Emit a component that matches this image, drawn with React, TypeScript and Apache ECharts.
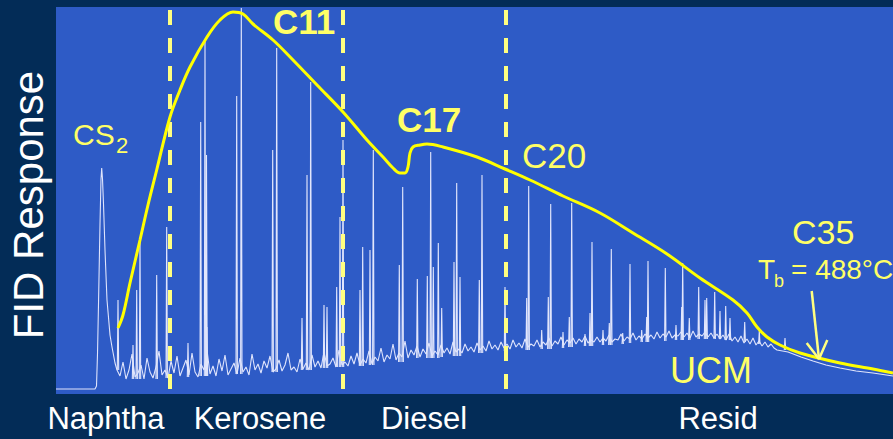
import React, { useEffect, useRef } from "react";
import * as echarts from "echarts";

// Bottom region labels (x = retention position, plot units)
const regionNames = ["Naphtha", "Kerosene", "Diesel", "Resid"];
const regionLabelPos = [50, 204, 368, 662];
// Dashed cut points between the fractions
const cutPoints = [114, 287, 449.5];

// Detector trace: flat start + CS2 solvent peak [rt, response]
const cs2Trace: [number, number][] = [
  [0, 5], [39, 5], [40.5, 8], [41.5, 40], [42.5, 90], [44, 170], [45, 215], [45.7, 226],
  [46.5, 215], [47.5, 190], [49, 144], [51, 94], [54, 59], [56, 47], [59, 31], [61, 24],
];
// Noisy UCM band, sampled every 3 units from rt 64
const noiseStart = 64;
const noiseStep = 3;
const noiseTrace = [
  18, 32, 15, 24, 40, 17, 21, 29, 15, 36, 22, 16, 27, 43, 19, 24, 16, 33, 21, 38,
  18, 26, 34, 19, 41, 22, 17, 30, 24, 44, 20, 28, 18, 35, 23, 39, 19, 25, 31, 20,
  36, 22, 27, 19, 40, 24, 30, 21, 33, 26, 38, 22, 25, 34, 23, 29, 41, 24, 27, 22,
  35, 25, 31, 24, 39, 27, 33, 26, 42, 28, 30, 36, 27, 44, 29, 32, 28, 38, 30, 41,
  29, 35, 31, 43, 30, 37, 33, 46, 32, 39, 35, 50, 34, 41, 37, 53, 36, 44, 39, 48,
  37, 45, 40, 51, 38, 43, 39, 49, 41, 46, 40, 52, 42, 45, 41, 50, 43, 47, 42, 51,
  44, 48, 43, 53, 45, 49, 44, 52, 46, 50, 45, 54, 47, 51, 46, 55, 47, 50, 48, 54,
  47, 52, 49, 56, 48, 53, 50, 57, 49, 54, 51, 56, 50, 55, 52, 58, 51, 54, 52, 57,
  52, 56, 53, 59, 52, 55, 54, 60, 53, 57, 55, 61, 54, 58, 55, 60, 56, 59, 55, 62,
  56, 60, 57, 63, 56, 59, 58, 62, 57, 61, 56, 63, 57, 60, 58, 62, 57, 61, 56, 60,
  55, 59, 54, 60, 53, 57, 52, 58, 51, 55, 50, 56, 49, 53, 48, 52, 47, 50, 46, 44,
];
// Smooth tail after the last resolved peaks
const tailTrace: [number, number][] = [
  [732, 42], [745, 37], [757, 33], [770, 29], [784, 26], [800, 23], [817, 21], [837, 18],
];

// Resolved peaks: [rt, base response, apex response]
const peaks: [number, number, number][] = [
  [62, 24, 94], [77, 15, 49], [80.7, 15, 104], [84, 15, 154], [100.7, 15, 119], [110.7, 16, 167],
  [132, 17, 51], [144.7, 18, 272], [149, 18, 352], [150.5, 18, 239], [151, 18, 67],
  [180.7, 20, 298], [185.3, 20, 386], [216.7, 22, 244], [220.7, 22, 346],
  [246, 24, 76], [251, 24, 219], [254.7, 24, 312], [268, 26, 89], [271, 26, 87],
  [280.7, 27, 107], [284, 27, 177], [287, 27, 254], [304, 28, 104], [306.7, 28, 147],
  [314, 29, 144], [317.3, 29, 244], [343.3, 32, 129], [346.7, 32, 207], [361.3, 36, 115],
  [371.3, 36, 118], [374.7, 36, 242], [377.3, 36, 127], [382.3, 36, 151], [385.7, 37, 86],
  [398, 38, 132], [400.7, 38, 211], [404, 38, 117], [423.3, 41, 114], [426, 41, 219],
  [449, 43, 107], [470.7, 44, 96], [472.7, 44, 208], [485.7, 45, 64], [492.3, 45, 97],
  [494.7, 45, 190], [507, 46, 62], [513.3, 47, 77], [515.7, 47, 191], [529, 48, 60],
  [534, 48, 81], [536, 48, 152], [547, 49, 64], [553.3, 49, 71], [555.3, 49, 145],
  [566.7, 50, 61], [574, 51, 130], [585.7, 52, 64], [590.7, 52, 77], [592, 52, 133],
  [609.3, 53, 126], [620, 54, 69], [625.7, 54, 87], [626.7, 54, 131], [633.3, 54, 76],
  [642.7, 55, 107], [649, 55, 94], [650.7, 55, 96], [658.7, 55, 102], [664, 55, 83],
  [669.7, 54, 88], [674, 54, 76], [688.7, 52, 72], [703.3, 50, 63], [729, 44, 56],
];

// Yellow boiling-point envelope [rt, response]
const envelope: [number, number][] = [
  [62, 66], [67, 79], [74, 111], [84, 154], [92, 189], [100.7, 224], [114, 277], [124, 304],
  [134, 327], [151, 357], [164, 374], [177, 382], [187, 380], [197, 370], [217, 354],
  [237, 334], [261, 309], [287, 282], [311, 254], [327, 237], [337, 226], [344, 221],
  [349, 221], [352, 227], [354, 241], [357, 247], [364, 249], [371, 250], [387, 247],
  [421, 237], [449, 225], [474, 214], [507, 198], [544, 181], [577, 161], [611, 140],
  [644, 116], [677, 94], [691, 81], [701, 67], [711, 57], [724, 49], [744, 41],
  [784, 31], [817, 25], [837, 21],
];

// Arrow pointing at C35 on the envelope
const arrowShaft: [number, number][] = [[755.7, 103], [763, 35]];
const arrowHead: [number, number][] = [[750.7, 51], [763, 35], [771.3, 54]];

const FONT = '"Liberation Sans", Arial, Helvetica, sans-serif';
const LABEL_YELLOW = "#ffff66";

export default function App() {
  const ref = useRef<HTMLDivElement>(null);

  useEffect(() => {
    if (!ref.current) return;
    const chart = echarts.init(ref.current, undefined, { renderer: "svg" });

    const trace: [number, number][] = [
      ...cs2Trace,
      ...noiseTrace.map((v, i) => [noiseStart + i * noiseStep, v] as [number, number]),
      ...tailTrace,
    ];

    const txt = (
      text: string,
      x: number,
      y: number,
      size: number,
      opts: { bold?: boolean; color?: string } = {}
    ) => ({
      type: "text",
      x,
      y,
      z: 100,
      style: {
        text,
        fill: opts.color ?? LABEL_YELLOW,
        font: `${opts.bold ? "bold " : ""}${size}px ${FONT}`,
        align: "left",
        verticalAlign: "middle",
      },
    });

    chart.setOption({
      animation: false,
      backgroundColor: "#032c57",
      grid: {
        left: 56,
        right: 0,
        top: 7,
        bottom: 45,
        show: true,
        backgroundColor: "#2e5bc6",
        borderWidth: 0,
        outerBoundsMode: "none",
      },
      xAxis: {
        type: "value",
        min: 0,
        max: 837,
        axisLine: { show: false },
        axisTick: { show: false },
        splitLine: { show: false },
        axisLabel: {
          customValues: regionLabelPos,
          formatter: (v: number) => {
            const i = regionLabelPos.indexOf(v);
            return i >= 0 ? regionNames[i] : "";
          },
          color: "#ffffff",
          fontSize: 31,
          fontFamily: FONT,
          margin: 9,
        },
      },
      yAxis: { type: "value", min: 0, max: 387, show: false },
      series: [
        {
          type: "line",
          data: trace,
          showSymbol: false,
          lineStyle: { color: "#dfe4fc", width: 1.1 },
          z: 2,
        },
        {
          type: "custom",
          data: peaks,
          encode: { x: 0, y: 2 },
          z: 3,
          renderItem: (params: any, api: any) => {
            const x = api.value(0);
            const base = api.value(1);
            const top = api.value(2);
            const p0 = api.coord([x - 0.7, base]);
            const p1 = api.coord([x, top]);
            const p2 = api.coord([x + 0.7, base]);
            return {
              type: "polyline",
              shape: { points: [p0, p1, p2] },
              style: { stroke: "#e2e6fc", lineWidth: 1.1, fill: null },
            };
          },
        },
        {
          type: "line",
          data: [],
          z: 5,
          markLine: {
            silent: true,
            symbol: ["none", "none"],
            label: { show: false },
            lineStyle: { color: "#ffff80", width: 4, type: [15, 13] },
            data: cutPoints.map((c) => [
              { coord: [c, 384] },
              { coord: [c, 5] },
            ]),
          },
        },
        {
          type: "line",
          data: envelope,
          showSymbol: false,
          smooth: 0.35,
          lineStyle: { color: "#ffff00", width: 3 },
          z: 6,
        },
        {
          type: "line",
          data: arrowShaft,
          showSymbol: false,
          lineStyle: { color: "#ffff80", width: 2.5 },
          z: 7,
        },
        {
          type: "line",
          data: arrowHead,
          showSymbol: false,
          lineStyle: { color: "#ffff80", width: 2.5 },
          z: 7,
        },
      ],
      graphic: [
        {
          type: "text",
          x: 28,
          y: 205,
          rotation: Math.PI / 2,
          z: 100,
          style: {
            text: "FID Response",
            fill: "#ffffff",
            font: `42px ${FONT}`,
            align: "center",
            verticalAlign: "middle",
          },
        },
        txt("CS", 73, 134.5, 30),
        txt("2", 116, 145.3, 22),
        txt("C11", 273, 21.8, 35, { bold: true }),
        txt("C17", 397, 119.8, 35, { bold: true }),
        txt("C20", 522, 155.8, 35),
        txt("C35", 792, 232, 34),
        txt("T", 758, 269.5, 28),
        txt("b", 774, 280.7, 18),
        txt("= 488°C", 791, 269.5, 28),
        txt("UCM", 670, 370.4, 36),
      ],
    });

    return () => chart.dispose();
  }, []);

  return (
    <div
      ref={ref}
      style={{ position: "absolute", left: 0, top: 0, width: 893, height: 439 }}
    />
  );
}
